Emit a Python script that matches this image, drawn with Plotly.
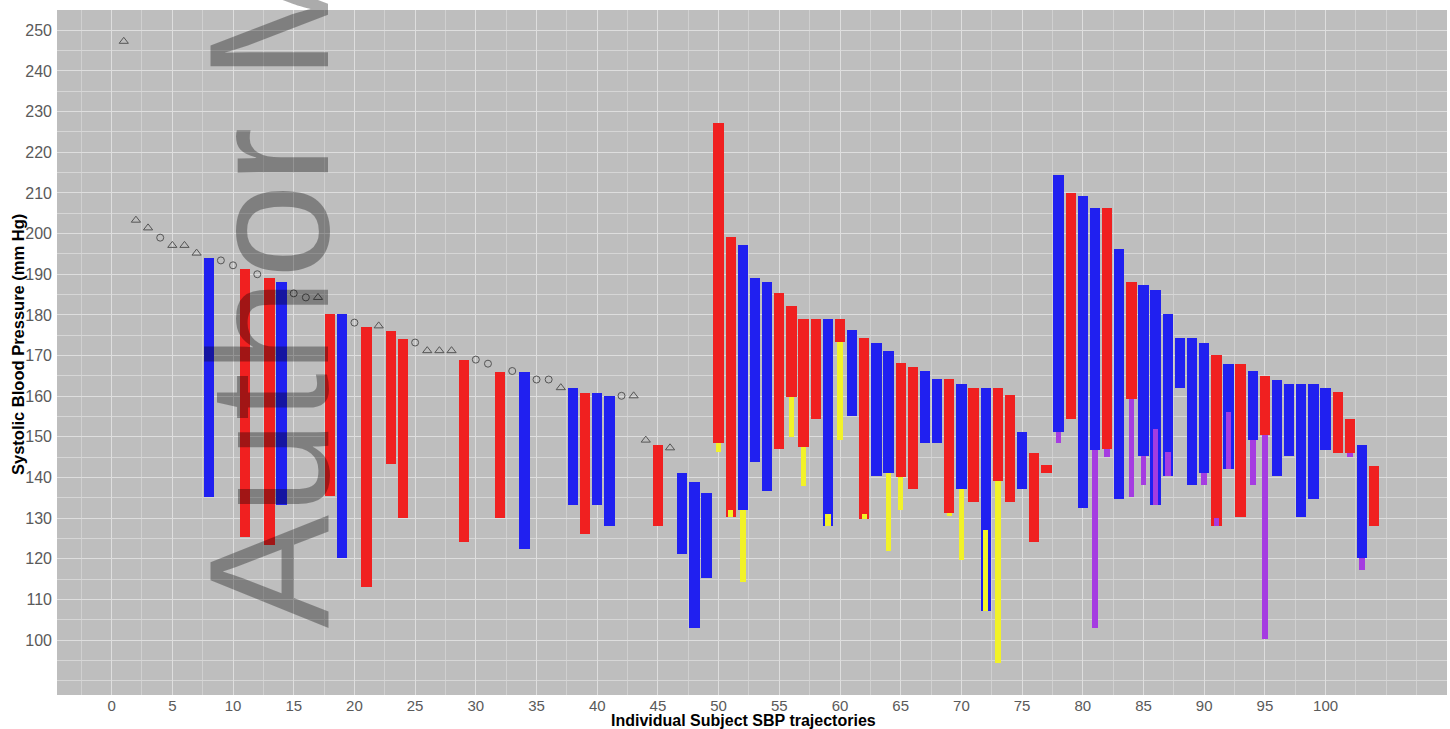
import plotly.graph_objects as go

# ---- data ----
red_x = [11, 13, 18, 21, 23, 24, 29, 32, 39, 45, 50, 51, 55, 56, 57, 58, 60, 62, 65, 66,
         69, 71, 73, 74, 76, 77, 79, 82, 84, 91, 93, 95, 101, 102, 104]
red_top = [191.2, 189.1, 180.1, 177.0, 176.0, 174.0, 168.9, 166.0, 160.9, 148.0, 227.2, 199.2,
           185.3, 182.1, 179.1, 179.1, 179.1, 174.2, 168.2, 167.2, 164.2, 162.1, 162.1, 160.2,
           146.1, 143.0, 210.1, 206.2, 188.1, 170.1, 168.0, 165.0, 161.1, 154.3, 142.9]
red_bottom = [125.3, 123.4, 135.4, 113.0, 143.3, 130.1, 124.2, 130.1, 126.2, 128.1, 148.4, 130.3,
              147.1, 159.7, 147.6, 154.3, 173.4, 129.9, 140.2, 137.1, 131.2, 134.0, 139.2, 134.0,
              124.1, 141.1, 154.3, 147.1, 159.4, 128.0, 130.2, 150.4, 146.1, 146.1, 128.0]

blue_x = [8, 14, 19, 34, 38, 40, 41, 47, 48, 49, 52, 53, 54, 59, 61, 63, 64, 67, 68, 70, 72, 75,
          78, 80, 81, 83, 85, 86, 87, 88, 89, 90, 92, 94, 96, 97, 98, 99, 100, 103]
blue_top = [194.1, 188.1, 180.1, 166.0, 162.1, 160.9, 160.0, 141.0, 139.0, 136.1, 197.3, 189.1,
            188.1, 179.1, 176.2, 173.2, 171.2, 166.2, 164.2, 163.1, 162.1, 151.1, 214.3, 209.2,
            206.2, 196.2, 187.3, 186.1, 180.2, 174.2, 174.2, 173.2, 168.0, 166.2, 164.1, 163.1,
            163.1, 163.1, 162.1, 148.0]
blue_bottom = [135.2, 133.2, 120.1, 122.5, 133.2, 133.2, 128.1, 121.3, 103.1, 115.2, 132.0, 143.7,
               136.7, 128.0, 155.2, 140.4, 141.2, 148.4, 148.4, 137.1, 107.2, 137.1, 151.1, 132.4,
               146.7, 134.7, 145.3, 133.2, 140.3, 162.1, 138.1, 141.2, 142.2, 149.2, 140.3, 145.3,
               130.2, 134.7, 146.7, 120.3]

yellow_x = [50, 51, 52, 56, 57, 59, 60, 62, 64, 65, 69, 70, 72, 73]
yellow_top = [148.4, 132.0, 132.0, 159.7, 147.6, 131.0, 173.4, 131.0, 141.2, 140.2, 131.2, 137.1, 127.0, 139.2]
yellow_bottom = [146.3, 130.3, 114.4, 150.0, 137.9, 128.0, 149.2, 129.9, 122.0, 132.0, 130.5, 119.7, 107.2, 94.3]

purple_x = [78, 81, 82, 84, 85, 86, 87, 90, 91, 92, 94, 95, 102, 103]
purple_top = [151.1, 146.7, 147.1, 159.4, 145.3, 152.0, 146.3, 141.2, 130.0, 156.2, 149.2, 150.4, 146.1, 120.3]
purple_bottom = [148.4, 103.0, 145.1, 135.2, 138.1, 133.2, 140.3, 138.1, 128.0, 142.2, 138.1, 100.2, 145.0, 117.2]

tri_x = [1, 2, 3, 5, 6, 7, 17, 22, 26, 27, 28, 37, 43, 44, 46]
tri_y = [247.3, 203.3, 201.4, 197.1, 197.1, 195.2, 184.3, 177.3, 171.2, 171.2, 171.2, 162.1, 160.1, 149.2, 147.3]
circ_x = [4, 9, 10, 12, 15, 16, 20, 25, 30, 31, 33, 35, 36, 42]
circ_y = [199.0, 193.4, 192.2, 190.0, 185.3, 184.3, 178.1, 173.2, 169.0, 168.0, 166.2, 164.1, 164.1, 160.1]

x_ticks = list(range(0, 101, 5))
y_ticks = list(range(100, 251, 10))

# ---- figure ----
fig = go.Figure()


def add_bars(xs, tops, bottoms, color, width):
    fig.add_trace(go.Bar(
        x=xs,
        y=[t - b for t, b in zip(tops, bottoms)],
        base=bottoms,
        width=width,
        marker=dict(color=color, line=dict(width=0)),
        showlegend=False,
        hoverinfo="skip",
    ))


add_bars(red_x, red_top, red_bottom, "rgb(240,32,32)", 0.85)
add_bars(blue_x, blue_top, blue_bottom, "rgb(32,32,240)", 0.85)
add_bars(yellow_x, yellow_top, yellow_bottom, "rgb(242,242,40)", 0.45)
add_bars(purple_x, purple_top, purple_bottom, "rgb(165,60,225)", 0.45)

fig.add_trace(go.Scatter(
    x=tri_x, y=tri_y, mode="markers",
    marker=dict(symbol="triangle-up-open", size=8, color="#555555", line=dict(width=1)),
    showlegend=False, hoverinfo="skip",
))
fig.add_trace(go.Scatter(
    x=circ_x, y=circ_y, mode="markers",
    marker=dict(symbol="circle-open", size=7, color="#555555", line=dict(width=1)),
    showlegend=False, hoverinfo="skip",
))

fig.update_layout(
    width=1450, height=729,
    margin=dict(l=57, r=3, t=10, b=34),
    paper_bgcolor="white",
    plot_bgcolor="#bebebe",
    barmode="overlay",
    bargap=0,
    font=dict(family="Liberation Sans, Arial, sans-serif"),
)

fig.update_xaxes(
    range=[-4.5, 110],
    tickmode="array", tickvals=x_ticks, ticktext=[str(v) for v in x_ticks],
    tickfont=dict(size=15, color="#5a5a5a"),
    ticks="", ticklabelstandoff=0,
    showgrid=True, gridcolor="#dedede", gridwidth=1,
    minor=dict(dtick=2.5, tick0=0, showgrid=True, gridcolor="#d0d0d0", gridwidth=1),
    zeroline=False, showline=False,
)
fig.update_yaxes(
    range=[86.5, 255],
    tickmode="array", tickvals=y_ticks, ticktext=[str(v) for v in y_ticks],
    tickfont=dict(size=16, color="#5a5a5a"),
    ticks="", ticklabelstandoff=4,
    showgrid=True, gridcolor="#dedede", gridwidth=1,
    minor=dict(dtick=5, tick0=0, showgrid=True, gridcolor="#d6d6d6", gridwidth=1),
    zeroline=False, showline=False,
)

# axis titles
fig.add_annotation(
    text="<b>Individual Subject SBP trajectories</b>",
    xref="paper", yref="paper", x=0.494, y=0, yshift=-25,
    xanchor="center", yanchor="middle", showarrow=False,
    font=dict(size=16, color="black"),
)
fig.add_annotation(
    text="<b>Systolic Blood Pressure (mm Hg)</b>",
    xref="paper", yref="paper", x=-0.028, y=0.511,
    xanchor="center", yanchor="middle", textangle=-90, showarrow=False,
    font=dict(size=16.5, color="black"),
)

# watermark
fig.add_annotation(
    text="Author Manuscript",
    xref="x", yref="paper", x=20.93, y=0.094,
    xanchor="right", yanchor="bottom", textangle=-90, showarrow=False,
    font=dict(size=170, color="rgba(0,0,0,0.33)", family="Liberation Sans, Arial, sans-serif"),
)

fig.write_html(
    "out.html",
    config={"displayModeBar": False},
    post_script="document.body.style.margin='0';document.documentElement.style.overflow='hidden';",
)
